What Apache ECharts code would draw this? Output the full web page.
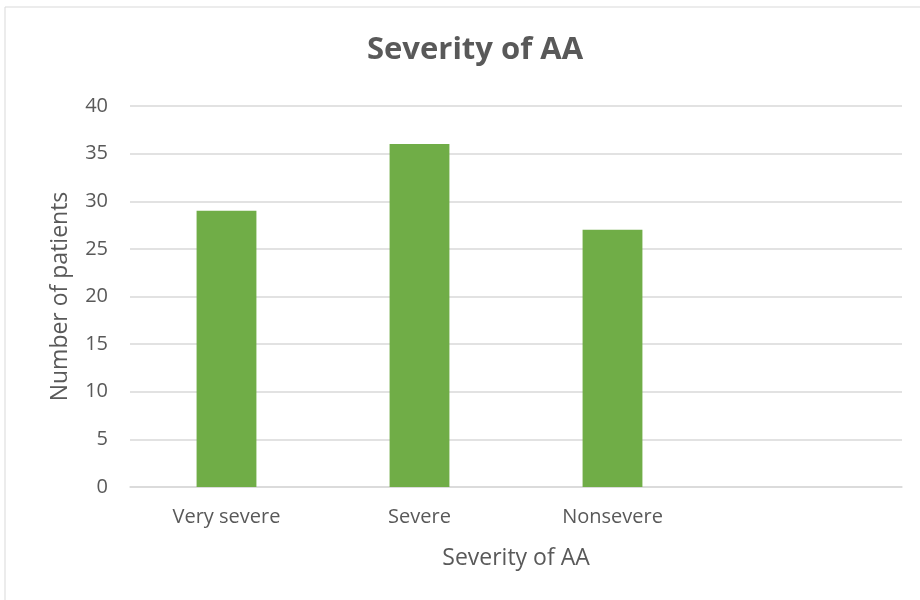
<!DOCTYPE html>
<html>
<head>
<meta charset="utf-8">
<script src="https://cdn.jsdelivr.net/npm/echarts@6/dist/echarts.min.js"></script>
<style>
  html, body { margin: 0; padding: 0; background: #fff; }
  #chart { width: 920px; height: 600px; }
</style>
</head>
<body>
<div id="chart"></div>
<script>
// 数据
var categories = ['Very severe', 'Severe', 'Nonsevere', ''];
var patients = [29, 36, 27, null];
var yTicks = [0, 5, 10, 15, 20, 25, 30, 35, 40];

var textColor = '#595959';
var fontFam = '"Open Sans", "Noto Sans", sans-serif';

var myChart = echarts.init(document.getElementById('chart'));

var option = {
    backgroundColor: '#fff',
    animation: false,
    textStyle: { fontFamily: fontFam, color: textColor },
    graphic: [
        {
            type: 'rect',
            shape: { x: 5, y: 7, width: 930, height: 610 },
            style: { fill: 'none', stroke: '#d9d9d9', lineWidth: 1 },
            silent: true
        }
    ],
    title: {
        text: 'Severity of AA',
        left: 470,
        top: 30,
        textAlign: 'center',
        textStyle: {
            fontFamily: fontFam,
            fontSize: 31,
            fontWeight: 'bold',
            color: textColor
        }
    },
    grid: {
        left: 130,
        right: 18,
        top: 106,
        bottom: 113,
        containLabel: false
    },
    xAxis: {
        type: 'category',
        data: categories,
        name: 'Severity of AA',
        nameLocation: 'middle',
        nameGap: 60,
        nameTextStyle: { fontSize: 23, color: textColor, fontFamily: fontFam },
        axisLine: { lineStyle: { color: '#d9d9d9', width: 1.5 } },
        axisTick: { show: false },
        axisLabel: { fontSize: 20, color: textColor, margin: 20, interval: 0 }
    },
    yAxis: {
        type: 'value',
        min: yTicks[0],
        max: yTicks[yTicks.length - 1],
        interval: 5,
        name: 'Number of patients',
        nameLocation: 'middle',
        nameGap: 58,
        nameTextStyle: { fontSize: 23, color: textColor, fontFamily: fontFam },
        axisLine: { show: false },
        axisTick: { show: false },
        axisLabel: { fontSize: 20, color: textColor, margin: 22 },
        splitLine: { lineStyle: { color: '#d9d9d9', width: 1.5 } }
    },
    series: [
        {
            name: 'Number of patients',
            type: 'bar',
            data: patients,
            barWidth: '31%',
            itemStyle: { color: '#70AD47' }
        }
    ]
};

myChart.setOption(option);
</script>
</body>
</html>
